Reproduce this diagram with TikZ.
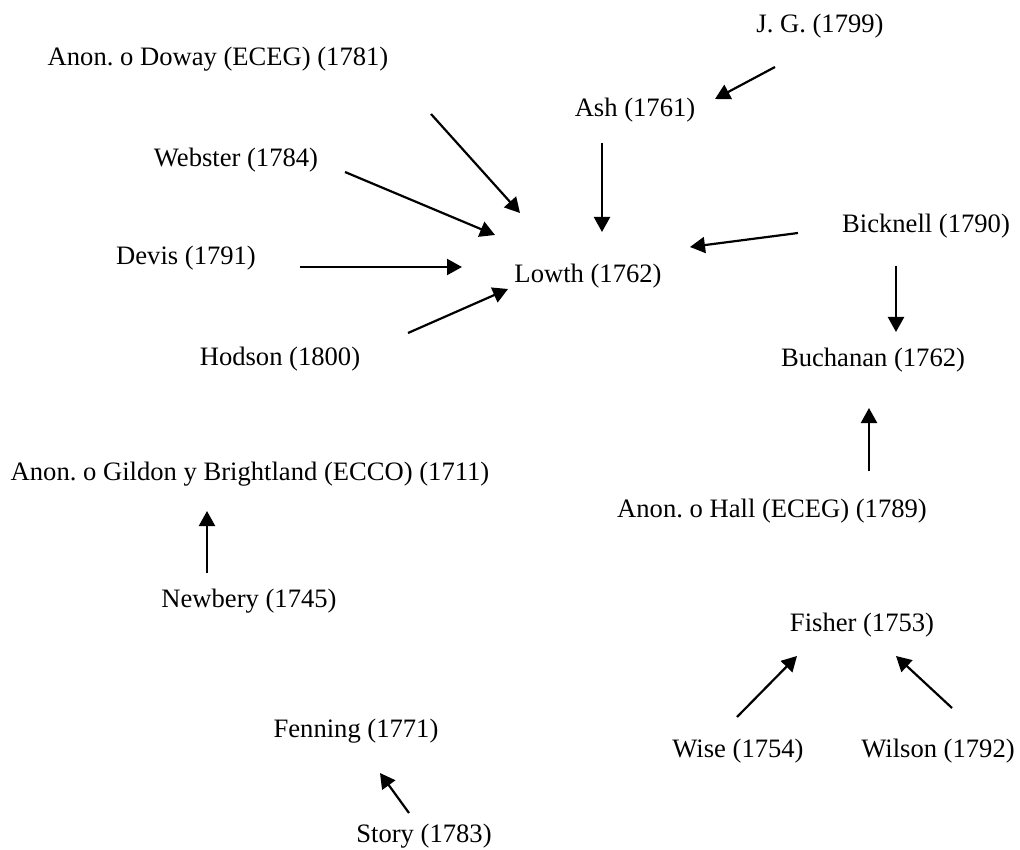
\documentclass[tikz,border=0pt]{standalone}
\usepackage{fontspec}
\setmainfont{Liberation Serif}
\usetikzlibrary{arrows.meta}
\frenchspacing
\begin{document}
\begin{tikzpicture}[x=1pt,y=-1pt,
  lbl/.style={anchor=base,inner sep=0pt,font=\fontsize{26.6}{30}\selectfont},
  arr/.style={line width=2.2pt,-{Triangle[length=15pt,width=16pt]}}]
\useasboundingbox (0,0) rectangle (1020,850);
% nodes
\node[lbl] (jg) at (820,33) {J. G. (1799)};
\node[lbl] (doway) at (218,66) {Anon. o Doway (ECEG) (1781)};
\node[lbl] (ash) at (635,117) {Ash (1761)};
\node[lbl] (webster) at (236,167) {Webster (1784)};
\node[lbl] (bicknell) at (926,233) {Bicknell (1790)};
\node[lbl] (devis) at (186,265) {Devis (1791)};
\node[lbl] (lowth) at (588,283) {Lowth (1762)};
\node[lbl] (hodson) at (280,365) {Hodson (1800)};
\node[lbl] (buchanan) at (873,366) {Buchanan (1762)};
\node[lbl] (gildon) at (250,480) {Anon. o Gildon y Brightland (ECCO) (1711)};
\node[lbl] (hall) at (772,517) {Anon. o Hall (ECEG) (1789)};
\node[lbl] (newbery) at (249,607) {Newbery (1745)};
\node[lbl] (fisher) at (862,631) {Fisher (1753)};
\node[lbl] (fenning) at (356,737) {Fenning (1771)};
\node[lbl] (wise) at (738,757) {Wise (1754)};
\node[lbl] (wilson) at (938,757) {Wilson (1792)};
\node[lbl] (story) at (424,842) {Story (1783)};
% arrow ends
\coordinate (jg-s) at (775,67);      \coordinate (ash-t1) at (715,99);
\coordinate (doway-s) at (431,114);  \coordinate (lowth-t1) at (520,213);
\coordinate (webster-s) at (345,172);\coordinate (lowth-t2) at (495,235);
\coordinate (ash-s) at (602,143);    \coordinate (lowth-t3) at (602,232);
\coordinate (bick-s1) at (798,233);  \coordinate (lowth-t4) at (690,247);
\coordinate (devis-s) at (300,267);  \coordinate (lowth-t5) at (462,267);
\coordinate (hodson-s) at (408,333); \coordinate (lowth-t6) at (508,289);
\coordinate (bick-s2) at (896,266);  \coordinate (buch-t1) at (896,332);
\coordinate (hall-s) at (869,471);   \coordinate (buch-t2) at (869,408);
\coordinate (newb-s) at (207,573);   \coordinate (gild-t) at (207,511);
\coordinate (wise-s) at (737,717);   \coordinate (fish-t1) at (797,656);
\coordinate (wils-s) at (952,708);   \coordinate (fish-t2) at (896,656);
\coordinate (story-s) at (409,813);  \coordinate (fenn-t) at (380,773);
% arrows
\draw[arr] (jg-s) -- (ash-t1);
\draw[arr] (doway-s) -- (lowth-t1);
\draw[arr] (webster-s) -- (lowth-t2);
\draw[arr] (ash-s) -- (lowth-t3);
\draw[arr] (bick-s1) -- (lowth-t4);
\draw[arr] (devis-s) -- (lowth-t5);
\draw[arr] (hodson-s) -- (lowth-t6);
\draw[arr] (bick-s2) -- (buch-t1);
\draw[arr] (hall-s) -- (buch-t2);
\draw[arr] (newb-s) -- (gild-t);
\draw[arr] (wise-s) -- (fish-t1);
\draw[arr] (wils-s) -- (fish-t2);
\draw[arr] (story-s) -- (fenn-t);
\end{tikzpicture}
\end{document}
